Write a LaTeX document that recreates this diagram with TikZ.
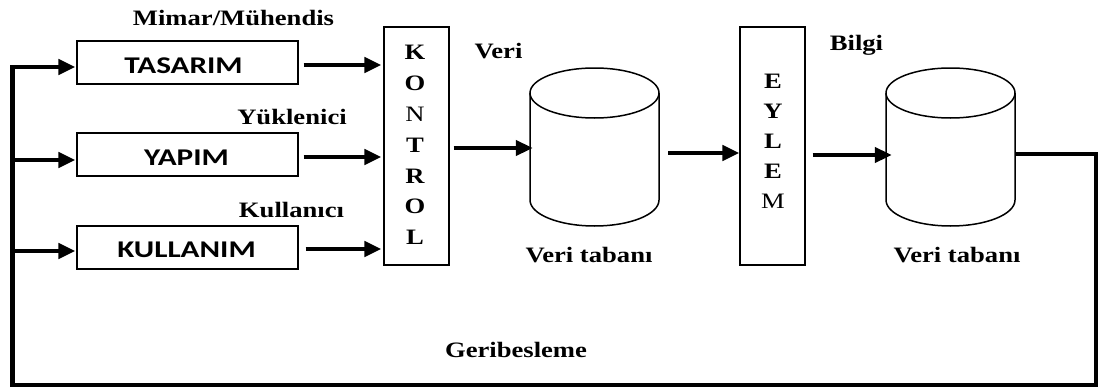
\documentclass[tikz,border=0pt]{standalone}
\usepackage{fontspec}
\newfontfamily\lblfont[FakeStretch=1.21]{Liberation Serif}
\newfontfamily\boxfont[FakeStretch=1.3]{Carlito}
\usetikzlibrary{arrows.meta}
\begin{document}
\begin{tikzpicture}[x=1pt,y=-1pt,
  box/.style={draw, line width=1.2pt, inner sep=0pt},
  cyl/.style={line width=1.5pt},
  arr/.style={line width=4.5pt, -{Triangle[length=17pt,width=15pt]}},
  fb/.style={line width=4.5pt, line join=miter},
  lab/.style={font=\lblfont\bfseries\fontsize{22}{26}\selectfont, anchor=base, inner sep=0pt},
  btxt/.style={font=\boxfont\bfseries\fontsize{24}{28}\selectfont, anchor=base, inner sep=0pt},
  vtxt/.style={align=center, inner sep=0pt}]
\useasboundingbox (0,0) rectangle (1101,388);

% input boxes
\node[box, minimum width=221pt, minimum height=43pt] (tas) at (187.5,62.5) {};
\node[box, minimum width=221pt, minimum height=43pt] (yap) at (187.5,154.5) {};
\node[box, minimum width=221pt, minimum height=43pt] (kul) at (187.5,247.5) {};
\node[btxt] (tast) at (183.5,73) {TASARIM};
\node[btxt] (yapt) at (186.5,165) {YAPIM};
\node[btxt] (kult) at (186.5,257) {KULLANIM};

% vertical boxes
\node[box, minimum width=65pt, minimum height=238pt] (kon) at (416.5,146) {};
\node[vtxt, font=\lblfont\bfseries\fontsize{22}{30.8}\selectfont] (kont) at (415,145)
  {K\\O\\{\mdseries N}\\T\\R\\O\\L};
\node[box, minimum width=65pt, minimum height=238pt] (eyl) at (772.5,146) {};
\node[vtxt, font=\lblfont\bfseries\fontsize{22}{30}\selectfont] (eylt) at (773,141)
  {E\\Y\\L\\E\\{\mdseries M}};

% databases
\node[minimum width=129pt, minimum height=159pt, inner sep=0pt] (db1) at (594.5,146.5) {};
\draw[cyl] (594.5,93) ellipse [x radius=64.5, y radius=25];
\draw[cyl] (530,93) -- (530,200) arc[start angle=180, end angle=0, x radius=64.5, y radius=26] -- (659,93);
\node[minimum width=129pt, minimum height=159pt, inner sep=0pt] (db2) at (950.5,146.5) {};
\draw[cyl] (950.5,93) ellipse [x radius=64.5, y radius=25];
\draw[cyl] (886,93) -- (886,200) arc[start angle=180, end angle=0, x radius=64.5, y radius=26] -- (1015,93);

% labels
\node[lab] (mim) at (233.5,25) {Mimar/Mühendis};
\node[lab] (yuk) at (292,124) {Yüklenici};
\node[lab] (kll) at (291.5,217) {Kullanıcı};
\node[lab] (veri) at (498.5,58) {Veri};
\node[lab] (vt1) at (589,262) {Veri tabanı};
\node[lab] (bil) at (856.5,50) {Bilgi};
\node[lab] (vt2) at (957,262) {Veri tabanı};
\node[lab] (geri) at (516,357) {Geribesleme};

% level coordinates
\coordinate (l1) at (0,67);
\coordinate (l2) at (0,160);
\coordinate (l3) at (0,251);
\coordinate (r1) at (0,65);
\coordinate (r2) at (0,157);
\coordinate (r3) at (0,249);
\coordinate (m1) at (0,148);
\coordinate (m2) at (0,153);
\coordinate (m3) at (0,155);
\coordinate (fbR) at (1096,154);
\coordinate (fbBR) at (1096,385);
\coordinate (fbBL) at (12.5,385);
\coordinate (fbTL) at (12.5,67);

% feedback loop
\draw[fb, -{Triangle[length=17pt,width=15pt]}, shorten >=1pt]
  (db2.east |- fbR) -- (fbR) -- (fbBR) -- (fbBL) -- (fbTL) -- (tas.west |- l1);
\draw[arr, shorten >=1pt] (fbBL |- l2) -- (yap.west |- l2);
\draw[arr, shorten >=1pt] (fbBL |- l3) -- (kul.west |- l3);

% to control
\draw[arr, shorten <=5pt, shorten >=2pt] (tas.east |- r1) -- (kon.west |- r1);
\draw[arr, shorten <=5pt, shorten >=2pt] (yap.east |- r2) -- (kon.west |- r2);
\draw[arr, shorten <=7pt, shorten >=2pt] (kul.east |- r3) -- (kon.west |- r3);

% main flow
\draw[arr, shorten <=4pt, shorten >=-3pt] (kon.east |- m1) -- (db1.west |- m1);
\draw[arr, shorten <=9pt] (db1.east |- m2) -- (eyl.west |- m2);
\draw[arr, shorten <=7pt, shorten >=-6pt] (eyl.east |- m3) -- (db2.west |- m3);
\end{tikzpicture}
\end{document}
